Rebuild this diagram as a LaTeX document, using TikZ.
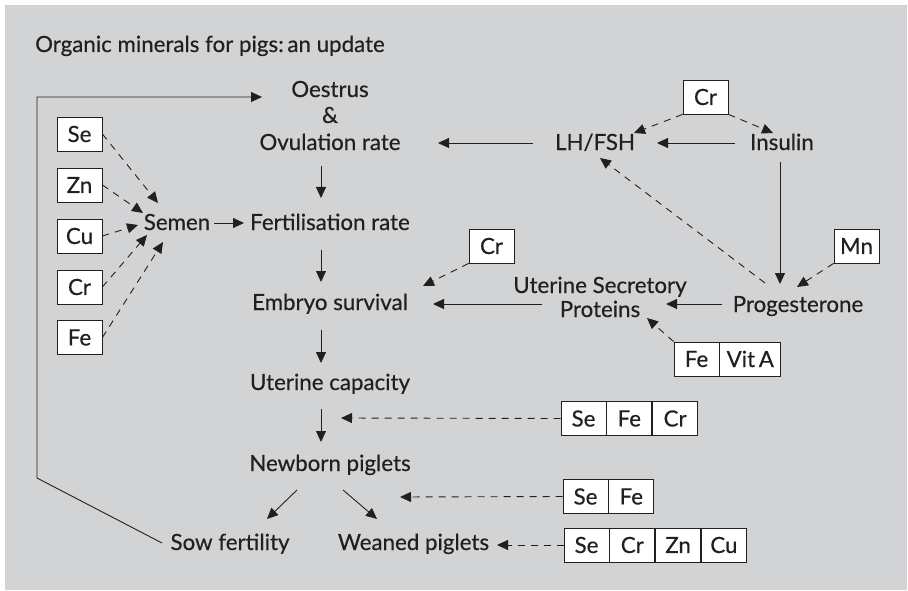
\documentclass[tikz,border=0pt]{standalone}
\usepackage{fontspec}
\setmainfont{Lato}[UprightFeatures={FakeBold=0.4}]
\usetikzlibrary{arrows.meta}
\definecolor{bggray}{RGB}{209,211,212}
\definecolor{ink}{RGB}{35,31,32}
\begin{document}
\begin{tikzpicture}[x=1pt,y=-1pt,
  every node/.style={inner sep=0pt, text=ink, font=\fontsize{22.3}{26}\selectfont},
  lbl/.style={anchor=base},
  mbox/.style={draw=ink, line width=0.8pt, fill=white, minimum width=45pt, minimum height=34pt, anchor=center},
  arr/.style={draw=ink, line width=0.9pt, -{Triangle[length=11pt,width=10pt]}},
  darr/.style={arr, dash pattern=on 7pt off 6pt}
]
\useasboundingbox (0,0) rectangle (908,591);
\fill[white] (0,0) rectangle (908,591);
\fill[bggray] (5,5) rectangle (907,590);

% title
\node[anchor=base west] (title) at (35,52) {Organic minerals for pigs:\,an update};

% main chain
\node[lbl] (oes) at (330,97) {Oestrus};
\node[lbl] (amp) at (330,123) {\&};
\node[lbl] (ovul) at (330,150) {Ovulation rate};
\node[lbl] (fert) at (330,230) {Fertilisation rate};
\node[lbl] (semen) at (177,230) {Semen};
\node[lbl] (emb) at (330,310) {Embryo survival};
\node[lbl] (ucap) at (330,390) {Uterine capacity};
\node[lbl] (newb) at (330,471) {Newborn piglets};
\node[lbl] (sow) at (230,550) {Sow fertility};
\node[lbl] (wean) at (413.5,550) {Weaned piglets};
\node[lbl] (lhfsh) at (595,150) {LH/FSH};
\node[lbl] (insulin) at (782,150) {Insulin};
\node[lbl] (usp) at (600,293) {Uterine Secretory};
\node[lbl] (usp2) at (600,317) {Proteins};
\node[lbl] (prog) at (798,312) {Progesterone};

% left boxes
\node[mbox] (se) at (79.5,134) {Se};
\node[mbox] (zn) at (79.5,185) {Zn};
\node[mbox] (cu) at (79.5,236) {Cu};
\node[mbox] (cr) at (79.5,287) {Cr};
\node[mbox] (fe) at (79.5,337.5) {Fe};

% single boxes
\node[mbox] (crA) at (705.5,97) {Cr};
\node[mbox] (crB) at (491.5,246) {Cr};
\node[mbox] (mn) at (856.5,246) {Mn};

% multi-cell boxes
\node[mbox] (fv1) at (696.5,359) {Fe};
\node[mbox, anchor=west, minimum width=61pt] (fv2) at (fv1.east) {Vit\,A};

\node[mbox] (sfc1) at (583.5,418.5) {Se};
\node[mbox, anchor=west] (sfc2) at (sfc1.east) {Fe};
\node[mbox, anchor=west] (sfc3) at (sfc2.east) {Cr};

\node[mbox] (sf1) at (585.5,496.5) {Se};
\node[mbox, anchor=west] (sf2) at (sf1.east) {Fe};

\node[mbox] (sczc1) at (586.5,545) {Se};
\node[mbox, anchor=west] (sczc2) at (sczc1.east) {Cr};
\node[mbox, anchor=west] (sczc3) at (sczc2.east) {Zn};
\node[mbox, anchor=west] (sczc4) at (sczc3.east) {Cu};

% solid arrows
\draw[arr] ([shift={(-9,16)}]ovul.base) -- ([shift={(-9,-32)}]fert.base);
\draw[arr] ([shift={(-9,20)}]fert.base) -- ([shift={(-9,-28)}]emb.base);
\draw[arr] ([shift={(-9,20)}]emb.base) -- ([shift={(-9,-27)}]ucap.base);
\draw[arr] ([shift={(-9,19)}]ucap.base) -- ([shift={(-9,-29)}]newb.base);
\draw[arr] ([shift={(-33,19)}]newb.base) -- ([shift={(37,-31)}]sow.base);
\draw[arr] ([shift={(13,19)}]newb.base) -- ([shift={(-36.5,-31)}]wean.base);
\draw[arr] ([shift={(37,-7)}]semen.base) -- ([shift={(-86,-7)}]fert.base);
\draw[arr] ([shift={(-62,-7)}]lhfsh.base) -- ([shift={(108,-7)}]ovul.base);
\draw[arr] ([shift={(-47,-7)}]insulin.base) -- ([shift={(62,-7)}]lhfsh.base);
\draw[arr] ([shift={(-2,12)}]insulin.base) -- ([shift={(-18,-28)}]prog.base);
\draw[arr] ([shift={(-76,-8)}]prog.base) -- ([shift={(66,11)}]usp.base);
\draw[arr] ([shift={(-58,11)}]usp.base) -- ([shift={(103,-6)}]emb.base);

% feedback loop
\draw[arr] ([shift={(-68,-7)}]sow.base) -- (37,478) -- (37,97) -- ([shift={(-68,0)}]oes.base);

% dashed arrows
\draw[darr] (crA.south west) -- ([shift={(39,-17)}]lhfsh.base);
\draw[darr] (crA.south east) -- ([shift={(-9,-17)}]insulin.base);
\draw[darr] ([shift={(-33,-29)}]prog.base) -- ([shift={(5,8)}]lhfsh.base);
\draw[darr] (mn.south west) -- ([shift={(-1,-25)}]prog.base);
\draw[darr] (crB.south west) -- ([shift={(93,-24)}]emb.base);
\draw[darr] (fv1.north west) -- ([shift={(47,1)}]usp2.base);
\draw[darr] (sfc1.west) -- ([shift={(11,28)}]ucap.base);
\draw[darr] (sf1.west) -- ([shift={(70,26)}]newb.base);
\draw[darr] (sczc1.west) -- ([shift={(83.5,-5)}]wean.base);

\draw[darr] (se.east) -- ([shift={(-19,-27)}]semen.base);
\draw[darr] (zn.east) -- ([shift={(-34,-17)}]semen.base);
\draw[darr] (cu.east) -- ([shift={(-39,-5)}]semen.base);
\draw[darr] (cr.east) -- ([shift={(-30,5)}]semen.base);
\draw[darr] (fe.east) -- ([shift={(-14,12)}]semen.base);
\end{tikzpicture}
\end{document}
